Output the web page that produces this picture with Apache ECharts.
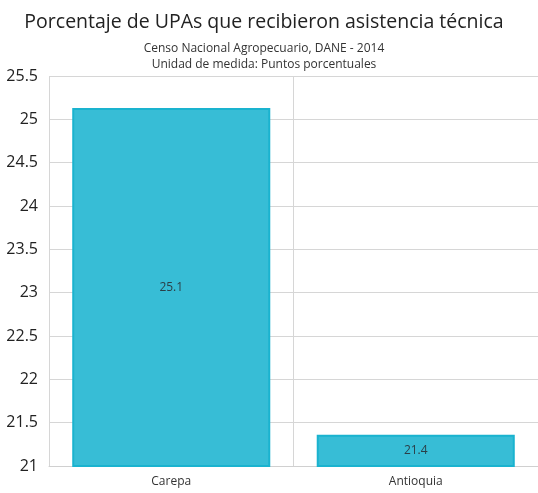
<!DOCTYPE html>
<html><head><meta charset="utf-8">
<script src="https://cdn.jsdelivr.net/npm/echarts@6/dist/echarts.min.js"></script>
<style>html,body{margin:0;padding:0;background:#fff}#c{width:538px;height:493px}</style>
</head><body><div id="c"></div>
<script>
const categories = ['Carepa', 'Antioquia'];
const values = [25.13, 21.36];
const labels = ['25.1', '21.4'];
const yTicks = [21, 21.5, 22, 22.5, 23, 23.5, 24, 24.5, 25, 25.5];

const chart = echarts.init(document.getElementById('c'));
chart.setOption({
  animation: false,
  title: {
    text: 'Porcentaje de UPAs que recibieron asistencia técnica',
    subtext: 'Censo Nacional Agropecuario, DANE - 2014\nUnidad de medida: Puntos porcentuales',
    left: 259, textAlign: 'center', top: 7, itemGap: 9,
    textStyle: {fontFamily: 'Open Sans', fontSize: 19.5, fontWeight: 'normal', color: '#222'},
    subtextStyle: {fontFamily: 'Open Sans', fontSize: 12, color: '#333', lineHeight: 16}
  },
  grid: {left: 49, right: 0, top: 76, bottom: 27, containLabel: false},
  xAxis: {
    type: 'category', data: categories,
    axisLine: {show: true, lineStyle: {color: '#d0d0d0'}},
    axisTick: {show: false},
    splitLine: {show: true, lineStyle: {color: '#d6d6d6'}},
    axisLabel: {fontFamily: 'Open Sans', fontSize: 12, color: '#333', margin: 10}
  },
  yAxis: {
    type: 'value', min: 21, max: 25.5, interval: 0.5,
    axisLine: {show: false}, axisTick: {show: false},
    splitLine: {lineStyle: {color: '#d6d6d6'}},
    axisLabel: {fontFamily: 'Open Sans', fontSize: 16, color: '#222', margin: 11,
      formatter: v => yTicks.includes(v) ? String(v) : ''}
  },
  series: [{
    type: 'bar', data: values, barWidth: '81%',
    itemStyle: {color: '#37BDD6', borderColor: '#1AB3CF', borderWidth: 2},
    label: {show: true, position: 'inside', fontFamily: 'Open Sans', fontSize: 12, color: '#2b3f48',
      formatter: p => labels[p.dataIndex]}
  }]
});
</script></body></html>
